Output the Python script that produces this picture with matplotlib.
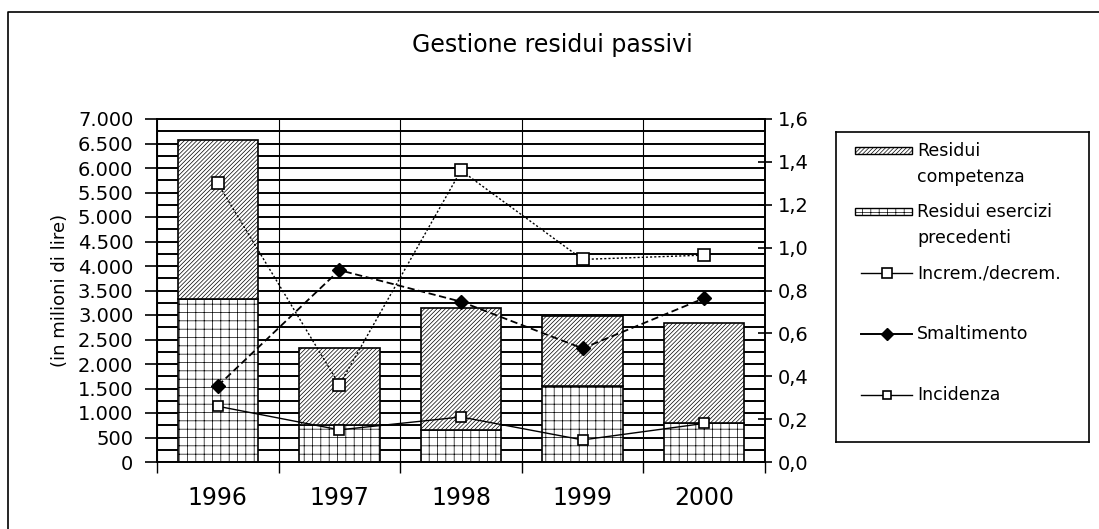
import numpy as np
import matplotlib.pyplot as plt
from matplotlib.ticker import MultipleLocator, FuncFormatter
from matplotlib.patches import Rectangle
from matplotlib.lines import Line2D

# dati
anni = ['1996', '1997', '1998', '1999', '2000']
residui_competenza = [3250, 1580, 2490, 1420, 2040]
residui_precedenti = [3330, 750, 650, 1560, 800]
increm_decrem = [1.30, 0.36, 1.36, 0.945, 0.965]
smaltimento = [0.355, 0.895, 0.748, 0.53, 0.764]
incidenza = [0.26, 0.15, 0.21, 0.103, 0.18]
voci_legenda = ['Residui\ncompetenza', 'Residui esercizi\nprecedenti',
                'Increm./decrem.', 'Smaltimento', 'Incidenza']

plt.rcParams['font.family'] = 'DejaVu Sans'
plt.rcParams['hatch.linewidth'] = 0.5

W, H = 1099, 529
fig = plt.figure(figsize=(W / 100, H / 100), dpi=100)


def fx(px):
    return px / W


def fy(py):
    return 1 - py / H


ax = fig.add_axes([fx(157), fy(462), fx(765) - fx(157), fy(119) - fy(462)])
x = np.arange(len(anni))

# barre impilate
ax.bar(x, residui_precedenti, 0.66, color='white', edgecolor='black',
       lw=1.2, hatch='++', zorder=3)
ax.bar(x, residui_competenza, 0.66, bottom=residui_precedenti, color='white',
       edgecolor='black', lw=1.2, hatch='////////', zorder=3)

ax.set_xlim(-0.5, 4.5)
ax.set_ylim(0, 7000)
ax.yaxis.set_major_locator(MultipleLocator(500))
ax.yaxis.set_minor_locator(MultipleLocator(250))
ax.yaxis.set_major_formatter(FuncFormatter(lambda v, p: f'{int(v):,}'.replace(',', '.')))
ax.grid(axis='y', which='both', color='black', lw=1.4, zorder=0)
ax.tick_params(axis='y', which='major', direction='out', length=9, width=1.2,
               pad=8, labelsize=14)
ax.tick_params(axis='y', which='minor', length=0)

# separatori tra le categorie
ax.set_xticks(np.arange(-0.5, 5, 1))
ax.set_xticklabels([])
ax.set_xticks(x, minor=True)
ax.set_xticklabels(anni, minor=True)
ax.tick_params(axis='x', which='major', direction='out', length=8, width=1)
ax.tick_params(axis='x', which='minor', length=0, pad=17, labelsize=17)
ax.grid(axis='x', which='major', color='black', lw=0.8, zorder=0)
ax.set_ylabel('(in milioni di lire)', fontsize=13, labelpad=6)
for s in ax.spines.values():
    s.set_linewidth(1.2)

# asse secondario
ax2 = ax.twinx()
ax2.plot(x, increm_decrem, color='black', lw=1, ls=(0, (1.5, 1.5)), marker='s',
         ms=8, mfc='white', mec='black', mew=1.2, zorder=4)
ax2.plot(x, smaltimento, color='black', lw=1.3, ls=(0, (4, 2)), marker='D',
         ms=7, mfc='black', mec='black', zorder=4)
ax2.plot(x, incidenza, color='black', lw=1, marker='s', ms=7, mfc='white',
         mec='black', mew=1.2, zorder=4)
ax2.set_ylim(0, 1.6)
ax2.yaxis.set_major_locator(MultipleLocator(0.2))
ax2.yaxis.set_major_formatter(FuncFormatter(lambda v, p: f'{v:.1f}'.replace('.', ',')))
ax2.tick_params(axis='y', direction='inout', length=10, width=1.2, pad=4, labelsize=14)
for s in ax2.spines.values():
    s.set_linewidth(1.2)

fig.text(fx(552), fy(45), 'Gestione residui passivi', ha='center', va='center', fontsize=17)

# cornice
fig.add_artist(Line2D([fx(8), fx(8), 1.0], [0, fy(12), fy(12)], color='black',
                      lw=1.2, transform=fig.transFigure))

# legenda
lax = fig.add_axes([fx(836), fy(442), fx(1089) - fx(836), fy(132) - fy(442)])
lax.set_xlim(0, 253)
lax.set_ylim(310, 0)
lax.set_xticks([])
lax.set_yticks([])
for s in lax.spines.values():
    s.set_linewidth(1.2)

stili = [
    dict(hatch='////////'),
    dict(hatch='++'),
    dict(lw=1, marker='s', ms=7, mfc='white', mec='black', mew=1.2),
    dict(lw=1.4, marker='D', ms=6, mfc='black', mec='black'),
    dict(lw=1, marker='s', ms=6, mfc='white', mec='black', mew=1.2),
]
for i, (lab, st) in enumerate(zip(voci_legenda, stili)):
    yc = 19 + 61 * i
    if 'hatch' in st:
        lax.add_patch(Rectangle((19, yc - 3.5), 57, 7, fc='white', ec='black',
                                lw=1, hatch=st['hatch']))
    else:
        lax.plot([25, 50.5, 76], [yc, yc, yc], color='black', markevery=[1], **st)
    for j, riga in enumerate(lab.split('\n')):
        lax.text(81, yc + 26 * j, riga, va='center', ha='left', fontsize=12.5)

fig.savefig('out.png', dpi=100)
